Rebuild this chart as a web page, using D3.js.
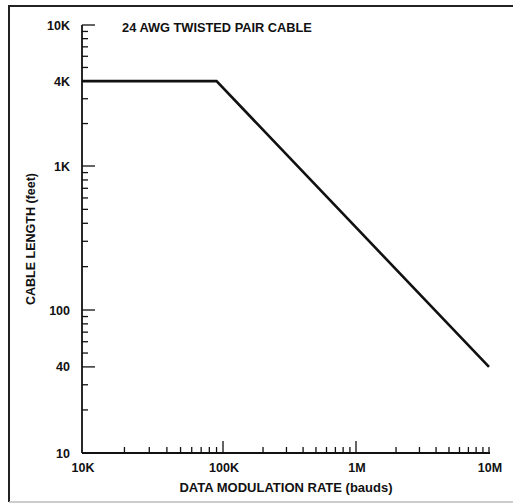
<!DOCTYPE html>
<html><head><meta charset="utf-8">
<script src="https://cdn.jsdelivr.net/npm/d3@7"></script>
<style>body{margin:0;background:#fff}svg{display:block}text{font-family:"Liberation Sans",Arial,Helvetica,sans-serif;font-weight:bold;fill:#111}</style>
</head><body>
<script>
// ---- data ----
const rateBauds = [1e4, 9e4, 1e7];
const lengthFeet = [4000, 4000, 40];
const xTickValues = [1e4, 1e5, 1e6, 1e7];
const xTickLabels = ["10K", "100K", "1M", "10M"];
const yTickValues = [10, 40, 100, 1000, 4000, 10000];
const yTickLabels = ["10", "40", "100", "1K", "4K", "10K"];
const title = "24 AWG TWISTED PAIR CABLE";
const xTitle = "DATA MODULATION RATE (bauds)";
const yTitle = "CABLE LENGTH (feet)";

const W = 513, H = 503;
const svg = d3.select("body").append("svg").attr("width", W).attr("height", H);

const x = d3.scaleLog().domain([1e4, 1e5, 1e6, 1e7]).range([82, 223, 356, 489]);
const y = d3.scaleLog().domain([1e4, 1e3, 1e2, 10]).range([25, 166, 310, 453]);

// outer frame
svg.append("line").attr("x1", 9).attr("x2", W).attr("y1", 6).attr("y2", 6).attr("stroke", "#222").attr("stroke-width", 2);
svg.append("line").attr("x1", 9).attr("x2", 9).attr("y1", 5).attr("y2", 502).attr("stroke", "#222").attr("stroke-width", 2);
svg.append("line").attr("x1", 9).attr("x2", W).attr("y1", 502).attr("y2", 502).attr("stroke", "#bbb").attr("stroke-width", 1.5);

const g = svg.append("g");
// axes lines
g.append("line").attr("x1", x(1e4)).attr("x2", x(1e4)).attr("y1", y(1e4)).attr("y2", y(10)).attr("stroke", "#111").attr("stroke-width", 1.8);
g.append("line").attr("x1", x(1e4)).attr("x2", x(1e7) + 1).attr("y1", y(10)).attr("y2", y(10)).attr("stroke", "#111").attr("stroke-width", 1.8);

// x ticks (pointing up)
const xMajor = new Set([1e5, 1e6]);
x.ticks().filter(v => v > 1e4 + 1).forEach(v => {
  const len = xMajor.has(v) ? 12 : 6;
  g.append("line").attr("x1", x(v)).attr("x2", x(v)).attr("y1", y(10)).attr("y2", y(10) - len).attr("stroke", "#111").attr("stroke-width", 1.3);
});
// y ticks (pointing right)
const yMajor = new Set([40, 100, 1000, 4000, 10000]);
y.ticks().filter(v => v > 10.5).forEach(v => {
  const len = yMajor.has(v) ? 13 : 6;
  g.append("line").attr("x1", x(1e4)).attr("x2", x(1e4) + len).attr("y1", y(v)).attr("y2", y(v)).attr("stroke", "#111").attr("stroke-width", 1.3);
});

// tick labels
yTickValues.forEach((v, i) => {
  g.append("text").attr("x", 70).attr("y", y(v)).attr("dy", "0.36em").attr("text-anchor", "end").attr("font-size", 12.5).text(yTickLabels[i]);
});
xTickValues.forEach((v, i) => {
  g.append("text").attr("x", x(v) + 1).attr("y", 472).attr("text-anchor", "middle").attr("font-size", 12.5).text(xTickLabels[i]);
});

// titles
svg.append("text").attr("x", 217).attr("y", 31.5).attr("text-anchor", "middle").attr("font-size", 12.8).text(title);
svg.append("text").attr("x", 286).attr("y", 492).attr("text-anchor", "middle").attr("font-size", 13).text(xTitle);
svg.append("text").attr("transform", "translate(35,239) rotate(-90)").attr("text-anchor", "middle").attr("font-size", 12.5).text(yTitle);

// data line
const line = d3.line().x((d, i) => x(rateBauds[i])).y(d => y(d));
g.append("path").datum(lengthFeet).attr("d", line).attr("fill", "none").attr("stroke", "#111").attr("stroke-width", 2.6).attr("stroke-linejoin", "miter");
</script>
</body></html>
